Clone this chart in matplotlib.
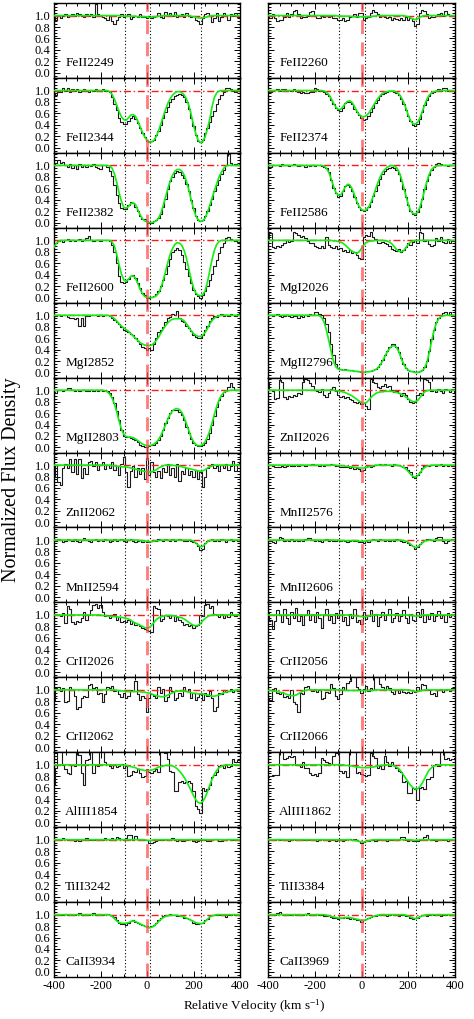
import matplotlib
matplotlib.use('Agg')
import matplotlib.pyplot as plt
import numpy as np
from matplotlib.ticker import MultipleLocator, FixedLocator, FormatStrFormatter

# velocity bins: -400 .. 400 km/s, 10 km/s per pixel
# component velocities marked with dotted lines
comp_v = [-95, 13, 232]

# ---------------- left column ----------------
flux_FeII2249 = [0.97, 0.93, 1.00, 0.96, 1.00, 1.02, 0.98, 1.00, 1.03, 1.00,
                 1.05, 1.02, 1.00, 0.98, 1.02, 1.00, 1.03, 0.97, 1.20, 1.02,
                 1.00, 0.98, 0.95, 0.93, 1.00, 0.90, 0.86, 0.92, 0.98, 1.02,
                 0.97, 1.00, 1.02, 0.94, 0.97, 1.00, 0.98, 1.03, 0.97, 0.98,
                 0.96, 1.00, 0.96, 0.98, 1.00, 1.04, 0.98, 0.96, 1.06, 1.00,
                 1.04, 1.00, 1.06, 0.98, 1.00, 1.02, 0.97, 1.05, 0.99, 0.98,
                 1.00, 0.92, 0.90, 0.86, 0.95, 1.02, 1.04, 1.00, 0.88, 0.95,
                 1.04, 0.90, 0.98, 1.04, 1.00, 0.93, 1.02, 1.00, 1.05, 0.98,
                 1.00]
model_FeII2249 = ([1.0] * 29 + [0.99] * 7 +
                  [0.98, 0.98, 0.98, 0.98, 0.98, 0.97, 0.97, 0.98, 0.98, 0.99, 0.99] +
                  [1.0] * 12 + [0.99, 0.98, 0.97, 0.96, 0.955, 0.96, 0.97, 0.98, 0.99] +
                  [1.0] * 13)

flux_FeII2344 = [0.96, 0.93, 0.98, 0.97, 1.04, 1.00, 1.05, 0.98, 1.02, 0.99,
                 1.03, 0.97, 1.00, 1.02, 1.00, 0.98, 1.01, 1.00, 1.03, 0.99,
                 1.00, 1.02, 1.00, 0.99, 0.97, 0.88, 0.76, 0.66, 0.52, 0.45,
                 0.42, 0.42, 0.46, 0.52, 0.55, 0.50, 0.44, 0.35, 0.25, 0.18,
                 0.12, 0.10, 0.11, 0.14, 0.22, 0.30, 0.40, 0.52, 0.62, 0.72,
                 0.80, 0.86, 0.90, 0.93, 0.94, 0.92, 0.88, 0.80, 0.68, 0.52,
                 0.38, 0.22, 0.12, 0.10, 0.14, 0.25, 0.35, 0.45, 0.55, 0.65,
                 0.76, 0.85, 0.92, 0.98, 1.05, 1.05, 1.02, 1.00, 0.98, 1.02,
                 1.00]
model_FeII2344 = ([1.0] * 23 +
                  [1.00, 0.98, 0.93, 0.85, 0.74, 0.63, 0.54, 0.49, 0.48, 0.52,
                   0.57, 0.58, 0.55, 0.47, 0.37, 0.27, 0.19, 0.13, 0.10, 0.10,
                   0.13, 0.20, 0.30, 0.42, 0.55, 0.67, 0.78, 0.86, 0.92, 0.96,
                   0.98, 0.98, 0.96, 0.92, 0.85, 0.74, 0.58, 0.40, 0.24, 0.13,
                   0.09, 0.11, 0.19, 0.33, 0.50, 0.72, 0.88, 0.96, 0.99] +
                  [1.0] * 9)

flux_FeII2382 = [1.00, 1.05, 1.10, 1.04, 1.06, 1.00, 0.98, 1.03, 0.96, 1.00,
                 0.94, 1.02, 0.98, 1.00, 0.97, 1.00, 0.99, 1.02, 0.98, 0.96,
                 0.94, 1.00, 1.01, 0.98, 0.90, 0.82, 0.66, 0.48, 0.35, 0.26,
                 0.23, 0.24, 0.30, 0.36, 0.34, 0.28, 0.20, 0.12, 0.06, 0.06,
                 0.02, 0.00, 0.00, 0.02, 0.04, 0.08, 0.15, 0.27, 0.42, 0.58,
                 0.72, 0.80, 0.86, 0.90, 0.88, 0.84, 0.78, 0.68, 0.55, 0.40,
                 0.25, 0.12, 0.05, 0.02, 0.05, 0.12, 0.20, 0.30, 0.42, 0.55,
                 0.65, 0.75, 0.85, 0.92, 1.00, 1.20, 1.05, 1.00, 1.03, 1.00,
                 1.02]
model_FeII2382 = ([1.0] * 24 +
                  [0.99, 0.95, 0.85, 0.70, 0.52, 0.37, 0.27, 0.25, 0.28, 0.33,
                   0.35, 0.32, 0.23, 0.14, 0.07, 0.03, 0.01, 0.00, 0.00, 0.01,
                   0.03, 0.08, 0.17, 0.30, 0.45, 0.60, 0.73, 0.83, 0.90, 0.93,
                   0.93, 0.90, 0.83, 0.72, 0.57, 0.40, 0.24, 0.12, 0.05, 0.02,
                   0.03, 0.08, 0.18, 0.30, 0.43, 0.56, 0.68, 0.80, 0.88, 0.95,
                   0.99] +
                  [1.0] * 6)

flux_FeII2600 = [0.92, 0.96, 0.98, 1.00, 0.97, 1.00, 1.02, 0.99, 1.01, 0.98,
                 1.00, 1.02, 0.99, 1.00, 1.04, 1.08, 1.00, 0.98, 1.01, 1.00,
                 0.99, 1.00, 1.00, 1.00, 0.98, 0.92, 0.80, 0.60, 0.38, 0.28,
                 0.25, 0.27, 0.33, 0.38, 0.40, 0.35, 0.25, 0.16, 0.08, 0.04,
                 0.00, -0.01, 0.01, 0.03, 0.06, 0.12, 0.20, 0.30, 0.42, 0.55,
                 0.68, 0.80, 0.84, 0.86, 0.84, 0.74, 0.62, 0.50, 0.38, 0.25,
                 0.14, 0.06, 0.02, 0.00, 0.05, 0.12, 0.20, 0.30, 0.42, 0.55,
                 0.66, 0.78, 0.88, 0.96, 1.04, 1.05, 1.02, 1.00, 0.98, 0.97,
                 0.96]
model_FeII2600 = ([0.88, 0.95, 0.98] + [1.0] * 22 +
                  [0.97, 0.90, 0.75, 0.57, 0.41, 0.31, 0.28, 0.32, 0.37, 0.38,
                   0.34, 0.25, 0.15, 0.07, 0.02, 0.00, 0.00, 0.00, 0.01, 0.03,
                   0.08, 0.17, 0.30, 0.46, 0.62, 0.76, 0.86, 0.93, 0.96, 0.95,
                   0.91, 0.82, 0.68, 0.50, 0.32, 0.17, 0.08, 0.04, 0.03, 0.05,
                   0.12, 0.27, 0.47, 0.67, 0.83, 0.93, 0.98] +
                  [1.0] * 9)

flux_MgI2852 = [1.00, 0.99, 1.00, 0.98, 1.00, 1.00, 0.97, 0.95, 0.96, 0.94,
                0.96, 0.82, 0.95, 0.82, 0.98, 0.99, 1.00, 1.01, 1.00, 0.99,
                1.00, 0.99, 1.00, 1.00, 0.98, 0.96, 0.92, 0.88, 0.84, 0.80,
                0.74, 0.72, 0.70, 0.68, 0.66, 0.60, 0.55, 0.50, 0.45, 0.42,
                0.40, 0.42, 0.40, 0.50, 0.60, 0.70, 0.75, 0.80, 0.88, 0.95,
                0.97, 1.02, 1.00, 1.08, 0.95, 0.90, 0.88, 0.82, 0.78, 0.72,
                0.66, 0.62, 0.60, 0.60, 0.66, 0.74, 0.82, 0.90, 0.95, 0.98,
                0.97, 1.00, 1.02, 0.98, 1.00, 0.98, 1.02, 1.00, 0.99, 1.03,
                1.05]
model_MgI2852 = ([1.0] * 23 +
                 [1.00, 0.99, 0.97, 0.94, 0.90, 0.85, 0.81, 0.78, 0.75, 0.72,
                  0.68, 0.64, 0.60, 0.56, 0.52, 0.50, 0.48, 0.47, 0.47, 0.48,
                  0.51, 0.56, 0.62, 0.69, 0.76, 0.82, 0.87, 0.91, 0.93, 0.94,
                  0.94, 0.94, 0.93, 0.90, 0.85, 0.79, 0.73, 0.68, 0.65, 0.63,
                  0.63, 0.65, 0.70, 0.77, 0.85, 0.91, 0.95, 0.98, 0.99] +
                 [1.0] * 9)

flux_MgII2803 = [0.97, 0.95, 1.00, 1.01, 0.99, 1.00, 1.03, 1.04, 1.00, 0.99,
                 1.00, 0.98, 1.00, 1.01, 0.99, 0.98, 1.00, 0.99, 1.00, 0.98,
                 1.00, 0.99, 1.00, 0.98, 0.95, 0.88, 0.78, 0.64, 0.48, 0.30,
                 0.20, 0.18, 0.18, 0.17, 0.15, 0.13, 0.10, 0.05, 0.02, 0.00,
                 0.00, 0.02, 0.04, 0.05, 0.08, 0.13, 0.20, 0.30, 0.42, 0.52,
                 0.60, 0.65, 0.66, 0.65, 0.62, 0.56, 0.48, 0.36, 0.25, 0.15,
                 0.08, 0.04, 0.02, 0.02, 0.04, 0.08, 0.15, 0.26, 0.40, 0.55,
                 0.70, 0.82, 0.90, 0.96, 0.99, 1.05, 1.12, 1.05, 1.00, 1.00,
                 1.01]
model_MgII2803 = ([1.0] * 22 +
                  [0.99, 0.97, 0.93, 0.86, 0.76, 0.62, 0.46, 0.32, 0.23, 0.19,
                   0.18, 0.18, 0.17, 0.15, 0.12, 0.09, 0.06, 0.04, 0.03, 0.03,
                   0.04, 0.06, 0.09, 0.14, 0.21, 0.30, 0.40, 0.50, 0.58, 0.64,
                   0.67, 0.68, 0.66, 0.61, 0.52, 0.41, 0.29, 0.18, 0.10, 0.05,
                   0.03, 0.03, 0.05, 0.10, 0.18, 0.29, 0.43, 0.58, 0.72, 0.83,
                   0.91, 0.96, 0.98, 0.99] +
                  [1.0] * 5)

flux_ZnII2062 = [0.80, 1.00, 0.70, 0.66, 0.95, 1.02, 0.95, 1.10, 0.88, 1.10,
                 0.85, 1.10, 0.78, 0.95, 0.85, 1.05, 1.08, 0.98, 1.05, 0.92,
                 1.00, 1.05, 0.93, 1.00, 0.95, 1.05, 0.92, 0.98, 0.82, 1.02,
                 1.15, 0.88, 0.62, 0.90, 0.98, 0.80, 0.95, 0.85, 0.95, 0.75,
                 1.12, 0.82, 1.05, 0.88, 0.80, 0.90, 0.78, 0.95, 0.88, 1.02,
                 0.83, 0.95, 0.80, 1.02, 0.72, 0.90, 0.85, 0.95, 0.83, 0.90,
                 0.80, 0.92, 0.75, 0.88, 0.62, 0.80, 0.95, 0.98, 1.02, 0.95,
                 0.98, 0.90, 1.00, 0.95, 1.02, 0.92, 0.98, 1.08, 0.90, 1.02,
                 1.05]
model_ZnII2062 = ([1.0] * 25 +
                  [0.99, 0.99, 0.98, 0.98, 0.97, 0.97, 0.97, 0.96, 0.95, 0.94,
                   0.93, 0.92, 0.91, 0.90, 0.89, 0.89, 0.88, 0.88, 0.90, 0.92,
                   0.95, 0.97, 0.99, 1.00, 1.00, 1.00, 1.00, 0.99, 0.99, 0.98,
                   0.97, 0.96, 0.95, 0.94, 0.93, 0.92, 0.91, 0.90, 0.89, 0.90,
                   0.92, 0.95, 0.97, 0.99] +
                  [1.0] * 12)

flux_MnII2594 = [1.00, 0.98, 1.02, 1.00, 0.97, 0.99, 1.02, 1.00, 0.98, 1.01,
                 0.99, 0.96, 1.00, 1.03, 1.00, 0.98, 0.97, 1.00, 1.02, 0.99,
                 1.00, 0.98, 1.01, 1.00, 0.97, 0.99, 1.02, 0.98, 1.00, 1.01,
                 0.98, 0.97, 1.00, 1.02, 0.99, 0.96, 0.98, 1.00, 0.97, 0.99,
                 0.97, 0.96, 0.98, 1.00, 0.98, 1.01, 1.00, 0.98, 1.02, 1.00,
                 0.99, 1.01, 0.98, 1.00, 1.02, 1.00, 0.98, 0.99, 1.00, 0.98,
                 0.97, 0.95, 0.90, 0.83, 0.85, 0.94, 0.98, 1.00, 1.02, 0.99,
                 1.00, 0.98, 1.01, 1.00, 0.97, 1.00, 1.02, 0.99, 1.00, 0.98,
                 1.00]
model_MnII2594 = ([1.0] * 37 +
                  [0.99, 0.99, 0.98, 0.98, 0.97, 0.97, 0.98, 0.99, 0.99] +
                  [1.0] * 14 +
                  [0.98, 0.95, 0.91, 0.88, 0.89, 0.93, 0.97, 0.99] +
                  [1.0] * 13)

flux_CrII2026 = [1.00, 1.02, 1.00, 0.98, 1.03, 0.86, 1.15, 1.10, 0.88, 0.85,
                 0.90, 0.88, 0.95, 1.05, 0.92, 1.00, 1.08, 1.18, 1.20, 1.12,
                 1.18, 1.05, 0.98, 1.00, 0.95, 0.98, 1.02, 0.92, 0.96, 0.88,
                 0.90, 0.87, 0.92, 0.85, 0.88, 0.82, 0.85, 0.80, 0.78, 0.75,
                 0.73, 0.72, 0.70, 1.15, 1.12, 1.10, 0.90, 0.93, 1.00, 0.98,
                 0.95, 1.00, 0.90, 0.96, 0.92, 0.88, 0.82, 0.84, 0.80, 0.82,
                 0.78, 0.80, 0.82, 1.00, 0.98, 1.18, 1.20, 1.12, 1.15, 1.02,
                 1.00, 0.96, 1.02, 0.94, 1.00, 0.96, 1.05, 1.00, 0.98, 1.02,
                 1.04]
model_CrII2026 = ([1.0] * 21 +
                  [0.99, 0.99, 0.98, 0.98, 0.97, 0.97, 0.97, 0.96, 0.96, 0.95,
                   0.94, 0.93, 0.91, 0.88, 0.86, 0.84, 0.82, 0.80, 0.78, 0.77,
                   0.78, 0.82, 0.87, 0.92, 0.95, 0.97, 0.98, 0.99, 0.99, 0.99,
                   0.99, 0.98, 0.97, 0.96, 0.95, 0.93, 0.90, 0.87, 0.84, 0.82,
                   0.81, 0.82, 0.85, 0.90, 0.94, 0.97, 0.99] +
                  [1.0] * 13)

flux_CrII2062 = [0.80, 1.04, 1.05, 0.98, 1.04, 0.78, 0.80, 1.05, 1.02, 0.90,
                 0.66, 0.70, 0.85, 0.90, 0.88, 1.08, 1.10, 1.04, 1.05, 0.92,
                 0.95, 0.78, 0.92, 1.05, 1.03, 1.06, 0.98, 1.00, 0.92, 0.88,
                 0.95, 0.85, 0.90, 1.00, 0.98, 1.15, 0.92, 0.82, 0.90, 0.85,
                 0.61, 0.85, 0.92, 0.90, 0.85, 1.05, 0.95, 1.02, 0.80, 0.88,
                 1.05, 0.98, 0.82, 0.85, 0.95, 0.90, 1.05, 0.98, 1.02, 0.85,
                 0.95, 0.82, 0.88, 0.93, 0.82, 0.95, 0.90, 0.98, 0.85, 0.63,
                 0.70, 0.95, 0.92, 1.00, 0.96, 0.98, 1.02, 0.97, 1.00, 0.98,
                 1.00]
model_CrII2062 = ([1.0] * 27 +
                  [0.99, 0.99, 0.98, 0.98, 0.97, 0.97, 0.97, 0.97, 0.97, 0.97,
                   0.97, 0.96, 0.96, 0.95, 0.94, 0.93, 0.91, 0.90, 0.89, 0.88,
                   0.88, 0.89, 0.91, 0.93, 0.95, 0.97, 0.98, 0.98, 0.98, 0.98,
                   0.97, 0.96, 0.95, 0.94, 0.94, 0.93, 0.93, 0.93, 0.92, 0.91,
                   0.90, 0.89, 0.89, 0.90, 0.91, 0.93, 0.95, 0.96, 0.97, 0.98,
                   0.99, 0.99, 1.00, 1.00])

flux_AlIII1854 = [0.64, 0.95, 1.25, 1.25, 1.00, 0.93, 0.86, 0.84, 1.00, 0.98,
                  1.25, 1.18, 0.86, 0.65, 1.08, 1.10, 1.25, 0.85, 1.00, 0.98,
                  1.25, 1.25, 1.05, 1.02, 0.98, 0.95, 1.00, 0.96, 0.98, 1.02,
                  0.95, 0.98, 0.80, 0.82, 0.90, 0.88, 0.92, 0.85, 0.78, 0.80,
                  0.92, 0.88, 0.86, 0.90, 0.92, 0.88, 1.25, 1.25, 1.20, 1.10,
                  0.90, 0.88, 0.55, 0.55, 0.70, 0.72, 0.68, 0.70, 0.72, 0.68,
                  0.55, 0.28, 0.22, 0.16, 0.60, 0.55, 0.58, 0.65, 0.78, 0.82,
                  0.88, 0.98, 1.00, 0.95, 1.02, 0.96, 0.98, 1.10, 1.05, 1.08,
                  1.10]
model_AlIII1854 = ([1.0] * 29 +
                   [1.00, 0.99, 0.99, 0.98, 0.97, 0.96, 0.95, 0.93, 0.92, 0.91,
                    0.90, 0.90, 0.90, 0.91, 0.92, 0.94, 0.96, 0.97, 0.98, 0.99,
                    0.99, 0.99, 0.98, 0.96, 0.93, 0.89, 0.84, 0.78, 0.71, 0.63,
                    0.55, 0.46, 0.39, 0.34, 0.33, 0.36, 0.43, 0.53, 0.64, 0.75,
                    0.84, 0.90, 0.95, 0.97, 0.99] +
                   [1.0] * 7)

flux_TiII3242 = [1.00, 1.01, 1.02, 1.00, 1.03, 1.02, 0.99, 0.99, 1.00, 0.98,
                 0.99, 0.97, 1.02, 1.01, 1.03, 1.00, 0.99, 0.99, 1.01, 1.00,
                 1.01, 1.00, 1.03, 1.02, 1.00, 1.03, 1.00, 1.04, 1.03, 1.02,
                 1.00, 1.03, 1.08, 1.09, 1.00, 1.07, 1.02, 1.01, 1.02, 1.00,
                 0.99, 0.95, 0.94, 0.96, 0.98, 0.99, 1.00, 1.00, 1.01, 1.00,
                 1.02, 1.03, 1.00, 0.98, 0.99, 0.97, 0.98, 1.00, 1.02, 1.01,
                 0.98, 0.96, 0.97, 1.00, 1.01, 0.99, 0.98, 0.97, 0.99, 1.02,
                 1.01, 0.98, 0.97, 0.99, 1.00, 1.01, 0.99, 1.00, 1.01, 1.00,
                 1.00]
model_TiII3242 = [1.0] * 40 + [0.99, 0.985, 0.99] + [1.0] * 38

flux_CaII3934 = [1.00, 1.01, 1.02, 1.00, 0.99, 1.01, 1.00, 1.02, 0.99, 1.00,
                 1.01, 1.03, 1.00, 0.99, 1.01, 1.00, 1.02, 1.03, 1.00, 1.02,
                 1.01, 1.00, 1.01, 1.02, 1.00, 0.98, 0.96, 0.90, 0.86, 0.84,
                 0.83, 0.82, 0.86, 0.89, 0.90, 0.87, 0.85, 0.84, 0.82, 0.80,
                 0.80, 0.79, 0.80, 0.82, 0.86, 0.90, 0.94, 0.97, 0.99, 1.00,
                 1.01, 0.99, 1.00, 0.98, 0.97, 0.98, 0.95, 0.94, 0.92, 0.90,
                 0.86, 0.84, 0.83, 0.85, 0.86, 0.90, 0.93, 0.97, 0.99, 1.00,
                 1.02, 1.00, 0.99, 1.00, 0.96, 0.99, 1.00, 1.01, 0.99, 1.00,
                 1.00]
model_CaII3934 = ([1.0] * 23 +
                  [1.00, 0.99, 0.97, 0.93, 0.89, 0.86, 0.85, 0.85, 0.85, 0.86,
                   0.88, 0.89, 0.88, 0.86, 0.84, 0.82, 0.80, 0.78, 0.77, 0.78,
                   0.80, 0.84, 0.88, 0.92, 0.95, 0.97, 0.98, 0.99, 0.99, 0.99,
                   0.99, 0.98, 0.97, 0.96, 0.94, 0.92, 0.90, 0.88, 0.86, 0.85,
                   0.84, 0.85, 0.88, 0.92, 0.96, 0.98, 0.99] +
                  [1.0] * 11)

# ---------------- right column ----------------
flux_FeII2260 = [1.00, 0.95, 1.02, 0.96, 0.90, 0.93, 0.92, 0.97, 1.05, 0.98,
                 1.02, 1.08, 1.10, 1.02, 0.95, 0.98, 0.97, 1.00, 1.07, 1.08,
                 1.00, 0.96, 0.95, 1.00, 0.97, 0.99, 0.98, 1.00, 0.96, 0.95,
                 0.93, 0.92, 0.95, 0.90, 0.92, 0.98, 1.00, 1.02, 0.98, 1.05,
                 1.04, 0.92, 0.95, 0.97, 1.04, 1.10, 1.06, 1.02, 0.98, 1.00,
                 0.97, 0.95, 0.98, 0.93, 0.96, 0.94, 0.92, 0.95, 0.93, 0.97,
                 0.92, 0.95, 0.90, 0.82, 0.86, 1.05, 1.10, 1.08, 1.02, 0.96,
                 0.98, 0.97, 0.99, 1.02, 1.04, 1.00, 1.08, 1.02, 1.00, 0.99,
                 1.01]
model_FeII2260 = ([1.0] * 30 +
                  [0.99, 0.99, 0.99, 0.99, 0.99, 0.99, 0.98, 0.98, 0.98, 0.98,
                   0.98, 0.98, 0.98, 0.98, 0.98, 0.99, 0.99] +
                  [1.0] * 12 +
                  [0.99, 0.98, 0.96, 0.94, 0.93, 0.94, 0.97, 0.99] +
                  [1.0] * 14)

flux_FeII2374 = [0.97, 0.98, 1.00, 1.01, 1.02, 1.00, 1.03, 1.02, 1.00, 1.01,
                 1.00, 1.02, 0.99, 0.97, 0.96, 0.97, 0.95, 0.96, 0.98, 0.97,
                 1.04, 1.03, 1.00, 0.99, 0.97, 0.94, 0.90, 0.84, 0.76, 0.70,
                 0.66, 0.64, 0.70, 0.78, 0.80, 0.80, 0.76, 0.68, 0.62, 0.57,
                 0.52, 0.48, 0.50, 0.55, 0.62, 0.70, 0.78, 0.84, 0.90, 0.94,
                 0.96, 0.97, 1.00, 0.99, 0.98, 0.96, 0.92, 0.85, 0.76, 0.66,
                 0.55, 0.46, 0.40, 0.38, 0.42, 0.50, 0.62, 0.74, 0.84, 0.90,
                 0.95, 0.98, 1.00, 1.02, 1.00, 1.05, 1.04, 1.00, 0.99, 1.00,
                 0.98]
model_FeII2374 = ([1.0] * 24 +
                  [0.99, 0.97, 0.93, 0.86, 0.78, 0.71, 0.67, 0.67, 0.71, 0.77,
                   0.81, 0.82, 0.79, 0.72, 0.64, 0.58, 0.55, 0.54, 0.56, 0.60,
                   0.66, 0.73, 0.80, 0.86, 0.91, 0.95, 0.97, 0.98, 0.99, 0.99,
                   0.99, 0.97, 0.94, 0.88, 0.80, 0.69, 0.57, 0.47, 0.42, 0.41,
                   0.44, 0.52, 0.63, 0.75, 0.85, 0.92, 0.96, 0.98, 0.99] +
                  [1.0] * 8)

flux_FeII2586 = [0.98, 0.97, 1.00, 1.01, 1.00, 0.99, 1.02, 1.00, 1.01, 0.99,
                 1.00, 1.02, 1.00, 0.99, 1.01, 1.00, 0.98, 1.00, 0.99, 1.00,
                 0.99, 1.00, 1.01, 0.99, 0.98, 0.95, 0.88, 0.75, 0.60, 0.52,
                 0.45, 0.46, 0.55, 0.64, 0.66, 0.63, 0.55, 0.45, 0.35, 0.27,
                 0.22, 0.20, 0.22, 0.28, 0.36, 0.46, 0.56, 0.66, 0.76, 0.85,
                 0.90, 0.94, 0.96, 0.97, 0.96, 0.92, 0.85, 0.72, 0.58, 0.44,
                 0.30, 0.20, 0.15, 0.14, 0.18, 0.28, 0.42, 0.58, 0.72, 0.84,
                 0.92, 0.98, 1.02, 1.05, 1.03, 1.00, 1.01, 0.99, 1.00, 1.00,
                 1.00]
model_FeII2586 = ([1.0] * 24 +
                  [0.99, 0.95, 0.88, 0.77, 0.64, 0.53, 0.48, 0.48, 0.54, 0.62,
                   0.67, 0.66, 0.59, 0.48, 0.37, 0.28, 0.23, 0.21, 0.22, 0.27,
                   0.35, 0.46, 0.58, 0.70, 0.80, 0.88, 0.93, 0.97, 0.99, 1.00,
                   0.99, 0.96, 0.89, 0.78, 0.63, 0.47, 0.32, 0.21, 0.16, 0.15,
                   0.18, 0.27, 0.41, 0.57, 0.72, 0.85, 0.93, 0.97, 0.99] +
                  [1.0] * 8)

flux_MgI2026 = [1.02, 1.12, 0.88, 0.86, 0.90, 0.88, 0.92, 0.95, 1.00, 0.97,
                0.98, 1.15, 1.12, 1.10, 1.05, 1.08, 1.04, 0.98, 0.95, 0.96,
                0.90, 0.88, 0.87, 0.90, 0.86, 1.05, 0.92, 0.88, 0.86, 0.90,
                0.85, 0.86, 0.82, 0.84, 0.80, 0.83, 0.78, 0.80, 0.75, 0.70,
                0.68, 1.05, 1.10, 1.08, 1.15, 1.05, 1.02, 0.96, 0.95, 0.97,
                0.95, 0.93, 0.90, 0.85, 0.84, 0.82, 0.85, 0.80, 0.83, 0.88,
                0.95, 0.92, 0.97, 1.00, 0.95, 1.15, 1.12, 0.98, 1.00, 0.94,
                0.90, 0.92, 1.04, 0.98, 1.05, 0.97, 0.95, 1.02, 0.96, 0.98,
                1.00]
model_MgI2026 = ([1.0] * 28 +
                 [0.99, 0.99, 0.98, 0.97, 0.95, 0.92, 0.88, 0.84, 0.81, 0.79,
                  0.77, 0.80, 0.86, 0.92, 0.96, 0.98, 0.99, 0.99, 1.00, 1.00,
                  1.00, 1.00, 0.99, 0.99, 0.97, 0.94, 0.89, 0.84, 0.81, 0.80,
                  0.82, 0.87, 0.93, 0.97, 0.99] +
                 [1.0] * 18)

flux_MgII2796 = [1.00, 1.01, 0.99, 1.00, 1.02, 0.98, 0.97, 0.99, 1.00, 0.98,
                 0.97, 0.99, 0.98, 0.96, 0.98, 0.97, 1.00, 0.98, 1.03, 1.00,
                 1.05, 1.06, 1.02, 1.00, 0.95, 0.85, 0.70, 0.50, 0.30, 0.15,
                 0.08, 0.06, 0.05, 0.06, 0.05, 0.04, 0.04, 0.03, 0.02, 0.02,
                 0.00, 0.01, 0.02, 0.02, 0.03, 0.04, 0.06, 0.10, 0.15, 0.22,
                 0.30, 0.38, 0.45, 0.50, 0.49, 0.45, 0.36, 0.25, 0.15, 0.08,
                 0.04, 0.02, 0.02, 0.00, 0.01, 0.02, 0.04, 0.10, 0.20, 0.38,
                 0.58, 0.75, 0.88, 0.96, 1.00, 1.04, 1.06, 1.00, 1.05, 0.98,
                 0.99]
model_MgII2796 = ([1.0] * 22 +
                  [0.99, 0.96, 0.88, 0.74, 0.56, 0.37, 0.20, 0.10, 0.06, 0.05,
                   0.04, 0.04, 0.04, 0.03, 0.03, 0.02, 0.02, 0.01, 0.01, 0.00,
                   0.01, 0.01, 0.02, 0.03, 0.05, 0.08, 0.13, 0.20, 0.28, 0.36,
                   0.42, 0.46, 0.47, 0.44, 0.36, 0.25, 0.15, 0.08, 0.04, 0.02,
                   0.01, 0.00, 0.00, 0.01, 0.03, 0.08, 0.18, 0.35, 0.55, 0.73,
                   0.86, 0.94, 0.98, 0.99] +
                  [1.0] * 5)

flux_ZnII2026 = [1.15, 1.00, 0.98, 0.85, 0.86, 1.17, 1.15, 0.88, 0.85, 0.90,
                 0.88, 0.92, 0.90, 0.95, 0.93, 1.15, 1.20, 1.18, 1.12, 1.08,
                 1.00, 0.98, 0.97, 1.02, 0.92, 0.88, 0.95, 1.02, 1.05, 0.98,
                 0.92, 0.88, 0.90, 0.86, 0.88, 0.85, 0.82, 0.80, 0.78, 0.80,
                 0.76, 0.78, 0.72, 0.67, 1.20, 1.15, 1.12, 1.05, 1.04, 1.08,
                 1.10, 1.05, 1.08, 1.00, 0.96, 0.98, 0.95, 0.90, 0.95, 0.92,
                 0.85, 0.80, 0.78, 0.80, 0.92, 0.95, 0.92, 1.20, 1.18, 1.15,
                 0.98, 1.00, 0.96, 1.02, 0.98, 0.95, 1.02, 1.00, 0.97, 1.02,
                 0.96]
model_ZnII2026 = ([1.0] * 29 +
                  [0.99, 0.99, 0.98, 0.97, 0.96, 0.94, 0.92, 0.90, 0.87, 0.84,
                   0.81, 0.78, 0.77, 0.78, 0.82, 0.87, 0.91, 0.94, 0.96, 0.97,
                   0.97, 0.98, 0.98, 0.98, 0.98, 0.97, 0.96, 0.95, 0.93, 0.91,
                   0.88, 0.85, 0.82, 0.80, 0.80, 0.82, 0.87, 0.93, 0.97, 0.99] +
                  [1.0] * 12)

flux_MnII2576 = [1.00, 1.01, 0.98, 0.97, 0.97, 0.96, 0.98, 0.97, 0.99, 1.00,
                 0.99, 0.98, 1.00, 0.99, 1.01, 1.00, 0.99, 1.01, 1.00, 1.02,
                 1.01, 1.00, 0.99, 1.00, 0.99, 1.01, 1.00, 1.02, 1.00, 0.99,
                 0.98, 0.97, 0.97, 0.96, 0.97, 0.95, 0.96, 0.94, 0.95, 0.93,
                 0.90, 0.92, 0.97, 0.98, 0.97, 0.99, 1.00, 1.01, 1.02, 1.01,
                 1.02, 1.00, 1.01, 0.99, 1.02, 1.01, 1.00, 0.98, 0.97, 0.96,
                 0.92, 0.88, 0.80, 0.78, 0.82, 0.88, 0.95, 0.98, 1.00, 0.99,
                 1.00, 1.01, 0.99, 1.00, 1.02, 0.99, 1.00, 0.98, 1.01, 0.99,
                 1.00]
model_MnII2576 = ([1.0] * 30 +
                  [0.99, 0.99, 0.99, 0.98, 0.98, 0.97, 0.97, 0.96, 0.96, 0.95,
                   0.95, 0.95, 0.96, 0.97, 0.98, 0.99] +
                  [1.0] * 10 +
                  [0.99, 0.98, 0.96, 0.93, 0.89, 0.84, 0.80, 0.79, 0.81, 0.86,
                   0.92, 0.96, 0.98, 0.99] +
                  [1.0] * 11)

flux_MnII2606 = [1.00, 0.98, 0.96, 0.95, 1.00, 1.05, 1.03, 0.99, 1.00, 0.98,
                 1.01, 0.99, 1.00, 0.98, 1.00, 0.99, 1.01, 1.03, 1.03, 1.00,
                 0.98, 1.00, 0.99, 0.97, 1.00, 1.01, 0.99, 1.00, 0.98, 0.99,
                 1.00, 0.98, 1.00, 0.99, 0.97, 0.98, 1.00, 0.99, 0.98, 0.96,
                 0.97, 0.95, 0.98, 0.97, 1.00, 1.02, 1.00, 0.99, 1.01, 1.00,
                 0.99, 1.00, 0.98, 1.00, 0.99, 1.01, 1.00, 0.99, 0.97, 0.98,
                 0.95, 0.92, 0.90, 0.85, 0.87, 0.93, 0.97, 1.00, 1.02, 1.01,
                 1.00, 0.99, 1.04, 1.06, 1.05, 0.99, 0.95, 0.98, 1.00, 1.01,
                 0.99]
model_MnII2606 = ([1.0] * 31 +
                  [0.99, 0.99, 0.99, 0.99, 0.99, 0.99, 0.99, 0.99, 0.98, 0.98,
                   0.98, 0.98, 0.99, 0.99] +
                  [1.0] * 13 +
                  [0.99, 0.98, 0.96, 0.93, 0.89, 0.87, 0.88, 0.91, 0.95, 0.98,
                   0.99] +
                  [1.0] * 12)

flux_CrII2056 = [1.05, 0.92, 0.75, 0.90, 1.08, 1.00, 0.88, 1.10, 0.95, 0.85,
                 1.05, 0.95, 1.12, 0.90, 0.98, 0.82, 1.00, 1.08, 0.92, 1.02,
                 0.88, 1.05, 0.95, 0.78, 1.00, 1.10, 0.92, 0.98, 0.86, 1.04,
                 0.95, 1.08, 0.90, 0.97, 0.82, 1.02, 0.94, 1.10, 0.88, 0.92,
                 0.85, 1.05, 0.93, 0.98, 1.08, 0.90, 1.02, 0.80, 0.96, 1.06,
                 0.92, 1.00, 1.10, 0.88, 0.95, 1.04, 0.90, 0.98, 1.08, 0.94,
                 0.86, 1.02, 0.92, 0.90, 1.05, 0.96, 1.10, 0.88, 1.00, 0.93,
                 1.04, 0.90, 0.98, 1.07, 0.94, 1.00, 0.87, 1.03, 0.96, 1.02,
                 0.98]
model_CrII2056 = ([1.0] * 36 +
                  [0.99, 0.99, 0.98, 0.98, 0.97, 0.97, 0.97, 0.98, 0.99] +
                  [1.0] * 17 + [0.99, 0.98, 0.98, 0.99] + [1.0] * 15)

flux_CrII2066 = [0.85, 0.82, 1.02, 1.04, 0.95, 0.92, 0.96, 0.88, 0.90, 0.85,
                 1.00, 0.78, 0.76, 0.62, 0.95, 0.92, 1.05, 1.06, 1.02, 0.98,
                 1.02, 0.96, 1.00, 0.84, 0.86, 0.97, 0.95, 1.10, 1.04, 0.90,
                 0.84, 0.92, 1.05, 1.00, 1.12, 1.15, 1.25, 1.25, 1.05, 1.02,
                 0.95, 1.02, 1.06, 0.98, 1.04, 1.00, 1.25, 1.22, 1.10, 1.05,
                 1.00, 1.06, 1.04, 0.96, 0.92, 1.00, 0.95, 1.02, 0.96, 0.94,
                 0.97, 0.95, 0.98, 0.96, 1.05, 1.00, 1.10, 1.08, 1.02, 1.00,
                 0.92, 0.95, 0.90, 1.00, 1.02, 0.96, 1.00, 1.02, 0.98, 1.03,
                 1.04]
model_CrII2066 = ([0.99, 0.99, 0.98, 0.98, 0.97, 0.96, 0.95, 0.94, 0.92, 0.91,
                   0.90, 0.90, 0.91, 0.93, 0.96, 0.98, 0.99] +
                  [1.0] * 16 + [0.99] * 13 + [1.0] * 15 +
                  [0.99, 0.98, 0.97, 0.97, 0.98, 0.99] + [1.0] * 14)

flux_AlIII1862 = [0.79, 0.80, 0.82, 0.83, 0.82, 1.25, 1.25, 1.10, 1.12, 1.15,
                  1.14, 1.15, 1.00, 1.00, 0.96, 1.05, 0.95, 0.95, 0.85, 0.82,
                  0.84, 0.80, 0.85, 1.12, 1.08, 1.05, 1.04, 1.02, 1.15, 1.20,
                  1.20, 0.90, 0.85, 0.90, 0.78, 1.25, 1.25, 1.22, 0.85, 0.88,
                  0.84, 0.82, 0.80, 0.83, 1.20, 1.15, 1.12, 0.95, 0.98, 0.92,
                  1.15, 1.05, 0.98, 1.05, 1.00, 0.95, 0.90, 0.88, 0.70, 0.72,
                  0.50, 0.50, 0.60, 0.58, 0.38, 0.60, 0.62, 0.58, 0.75, 0.76,
                  0.78, 1.00, 1.02, 0.98, 1.25, 1.25, 1.10, 1.12, 1.08, 1.10,
                  1.12]
model_AlIII1862 = ([1.0] * 33 +
                   [0.99, 0.99, 0.98, 0.98, 0.97, 0.96, 0.96, 0.95, 0.95, 0.95,
                    0.95, 0.96, 0.96, 0.97, 0.98, 0.99, 0.99, 1.00, 1.00, 1.00,
                    0.99, 0.98, 0.96, 0.93, 0.88, 0.82, 0.76, 0.70, 0.64, 0.60,
                    0.58, 0.58, 0.62, 0.68, 0.76, 0.84, 0.91, 0.95, 0.98, 0.99] +
                   [1.0] * 8)

flux_TiII3384 = [1.00, 1.01, 1.00, 0.99, 1.01, 1.00, 1.02, 0.99, 1.00, 0.98,
                 1.00, 1.01, 0.99, 1.00, 1.02, 1.00, 0.99, 1.00, 1.01, 0.99,
                 1.00, 0.98, 1.00, 1.01, 0.99, 1.00, 0.98, 1.00, 0.99, 0.98,
                 1.00, 0.99, 0.98, 1.00, 1.02, 1.01, 1.00, 1.02, 0.99, 0.97,
                 0.95, 0.96, 0.98, 0.97, 0.99, 1.00, 0.98, 1.00, 1.01, 0.99,
                 1.00, 0.98, 1.00, 0.99, 1.01, 1.00, 1.02, 1.05, 1.04, 1.00,
                 0.98, 0.99, 0.98, 0.97, 0.98, 1.00, 1.01, 1.04, 1.08, 1.02,
                 0.99, 1.00, 0.98, 1.00, 1.01, 0.99, 1.00, 0.97, 1.00, 1.01,
                 1.00]
model_TiII3384 = ([1.0] * 36 +
                  [0.99, 0.99, 0.98, 0.97, 0.96, 0.96, 0.97, 0.98, 0.99] +
                  [1.0] * 17 + [0.99, 0.99, 0.99] + [1.0] * 16)

flux_CaII3969 = [1.00, 1.02, 1.01, 1.00, 1.03, 1.05, 1.02, 1.00, 1.01, 1.00,
                 0.99, 1.01, 1.00, 1.02, 1.00, 0.99, 1.01, 1.03, 1.00, 0.99,
                 1.00, 1.01, 0.99, 1.00, 0.98, 0.97, 0.99, 0.96, 0.95, 0.94,
                 0.93, 0.95, 0.94, 0.96, 0.95, 0.93, 0.94, 0.92, 0.90, 0.91,
                 0.88, 0.90, 0.92, 0.94, 0.96, 0.98, 0.97, 1.00, 0.99, 1.01,
                 1.00, 0.98, 1.00, 1.02, 0.99, 1.00, 0.97, 1.00, 0.99, 0.98,
                 0.97, 0.95, 0.93, 0.94, 0.95, 0.97, 0.99, 1.00, 0.98, 1.00,
                 1.01, 0.99, 1.00, 1.02, 0.98, 1.00, 0.99, 1.01, 1.00, 0.99,
                 1.00]
model_CaII3969 = ([1.0] * 25 +
                  [0.99, 0.98, 0.97, 0.96, 0.95, 0.94, 0.94, 0.94, 0.95, 0.95,
                   0.95, 0.94, 0.93, 0.92, 0.91, 0.90, 0.90, 0.91, 0.93, 0.95,
                   0.97, 0.98, 0.99] +
                  [1.0] * 11 +
                  [0.99, 0.98, 0.96, 0.94, 0.93, 0.94, 0.96, 0.98, 0.99] +
                  [1.0] * 13)

left_panels = [
    ('FeII2249', flux_FeII2249, model_FeII2249),
    ('FeII2344', flux_FeII2344, model_FeII2344),
    ('FeII2382', flux_FeII2382, model_FeII2382),
    ('FeII2600', flux_FeII2600, model_FeII2600),
    ('MgI2852', flux_MgI2852, model_MgI2852),
    ('MgII2803', flux_MgII2803, model_MgII2803),
    ('ZnII2062', flux_ZnII2062, model_ZnII2062),
    ('MnII2594', flux_MnII2594, model_MnII2594),
    ('CrII2026', flux_CrII2026, model_CrII2026),
    ('CrII2062', flux_CrII2062, model_CrII2062),
    ('AlIII1854', flux_AlIII1854, model_AlIII1854),
    ('TiII3242', flux_TiII3242, model_TiII3242),
    ('CaII3934', flux_CaII3934, model_CaII3934),
]
right_panels = [
    ('FeII2260', flux_FeII2260, model_FeII2260),
    ('FeII2374', flux_FeII2374, model_FeII2374),
    ('FeII2586', flux_FeII2586, model_FeII2586),
    ('MgI2026', flux_MgI2026, model_MgI2026),
    ('MgII2796', flux_MgII2796, model_MgII2796),
    ('ZnII2026', flux_ZnII2026, model_ZnII2026),
    ('MnII2576', flux_MnII2576, model_MnII2576),
    ('MnII2606', flux_MnII2606, model_MnII2606),
    ('CrII2056', flux_CrII2056, model_CrII2056),
    ('CrII2066', flux_CrII2066, model_CrII2066),
    ('AlIII1862', flux_AlIII1862, model_AlIII1862),
    ('TiII3384', flux_TiII3384, model_TiII3384),
    ('CaII3969', flux_CaII3969, model_CaII3969),
]

plt.rcParams['font.family'] = 'Liberation Serif'
plt.rcParams['mathtext.fontset'] = 'custom'
plt.rcParams['mathtext.rm'] = 'Liberation Serif'
plt.rcParams['mathtext.default'] = 'regular'
plt.rcParams['axes.unicode_minus'] = False

W, H = 474, 1019
fig = plt.figure(figsize=(W / 100, H / 100), dpi=100)

nrow = 13
top_px, bot_px = 3, 977
row_h = (bot_px - top_px) / nrow
columns = [(54, 186, left_panels), (268, 187, right_panels)]

for col, (x_px, w_px, panels) in enumerate(columns):
    for row, (name, flux, model) in enumerate(panels):
        y_top = top_px + row * row_h
        ax = fig.add_axes([x_px / W, 1 - (y_top + row_h) / H, w_px / W, row_h / H])
        v = -400 + 10 * np.arange(len(flux))
        vm = -400 + 10 * np.arange(len(model))

        for cv in comp_v:
            ax.axvline(cv, color='k', lw=0.8, ls=(0, (1, 2)), zorder=1)
        ax.step(v, flux, where='mid', color='#1a1a1a', lw=0.8, zorder=2)
        ax.axhline(1.0, color='#ff1a1a', lw=1.0, ls=(0, (5, 2, 1, 2)), zorder=2.5)
        ax.plot(vm, model, color='#11ee11', lw=1.2, zorder=3)
        ax.axvline(0, color='#ff5050', alpha=0.75, lw=2.0, ls=(0, (5, 3)), zorder=4)

        ax.text(-352, 0.17, name, ha='left', va='center', fontsize=9.5)

        ax.set_xlim(-400, 400)
        ax.set_ylim(-0.09, 1.22)
        ax.xaxis.set_major_locator(MultipleLocator(200))
        ax.xaxis.set_minor_locator(MultipleLocator(50))
        ax.yaxis.set_major_locator(FixedLocator([0.0, 0.2, 0.4, 0.6, 0.8, 1.0]))
        ax.yaxis.set_minor_locator(MultipleLocator(0.05))
        ax.yaxis.set_major_formatter(FormatStrFormatter('%.1f'))
        ax.tick_params(which='both', direction='in', top=True, right=True,
                       labelsize=9, width=0.7, pad=2.5)
        ax.tick_params(which='major', length=4)
        ax.tick_params(which='minor', length=2)
        for sp in ax.spines.values():
            sp.set_linewidth(1.0)
        if col == 1:
            ax.tick_params(labelleft=False)
        if row < nrow - 1:
            ax.tick_params(labelbottom=False)

fig.text(12 / W, 1 - 480 / H, 'Normalized Flux Density', rotation=90,
         ha='center', va='center', fontsize=14.5)
fig.text(254 / W, 1 - 1006 / H, 'Relative Velocity (km s$^{-1}$)',
         ha='center', va='center', fontsize=9.5)

fig.savefig('out.png', dpi=100)
